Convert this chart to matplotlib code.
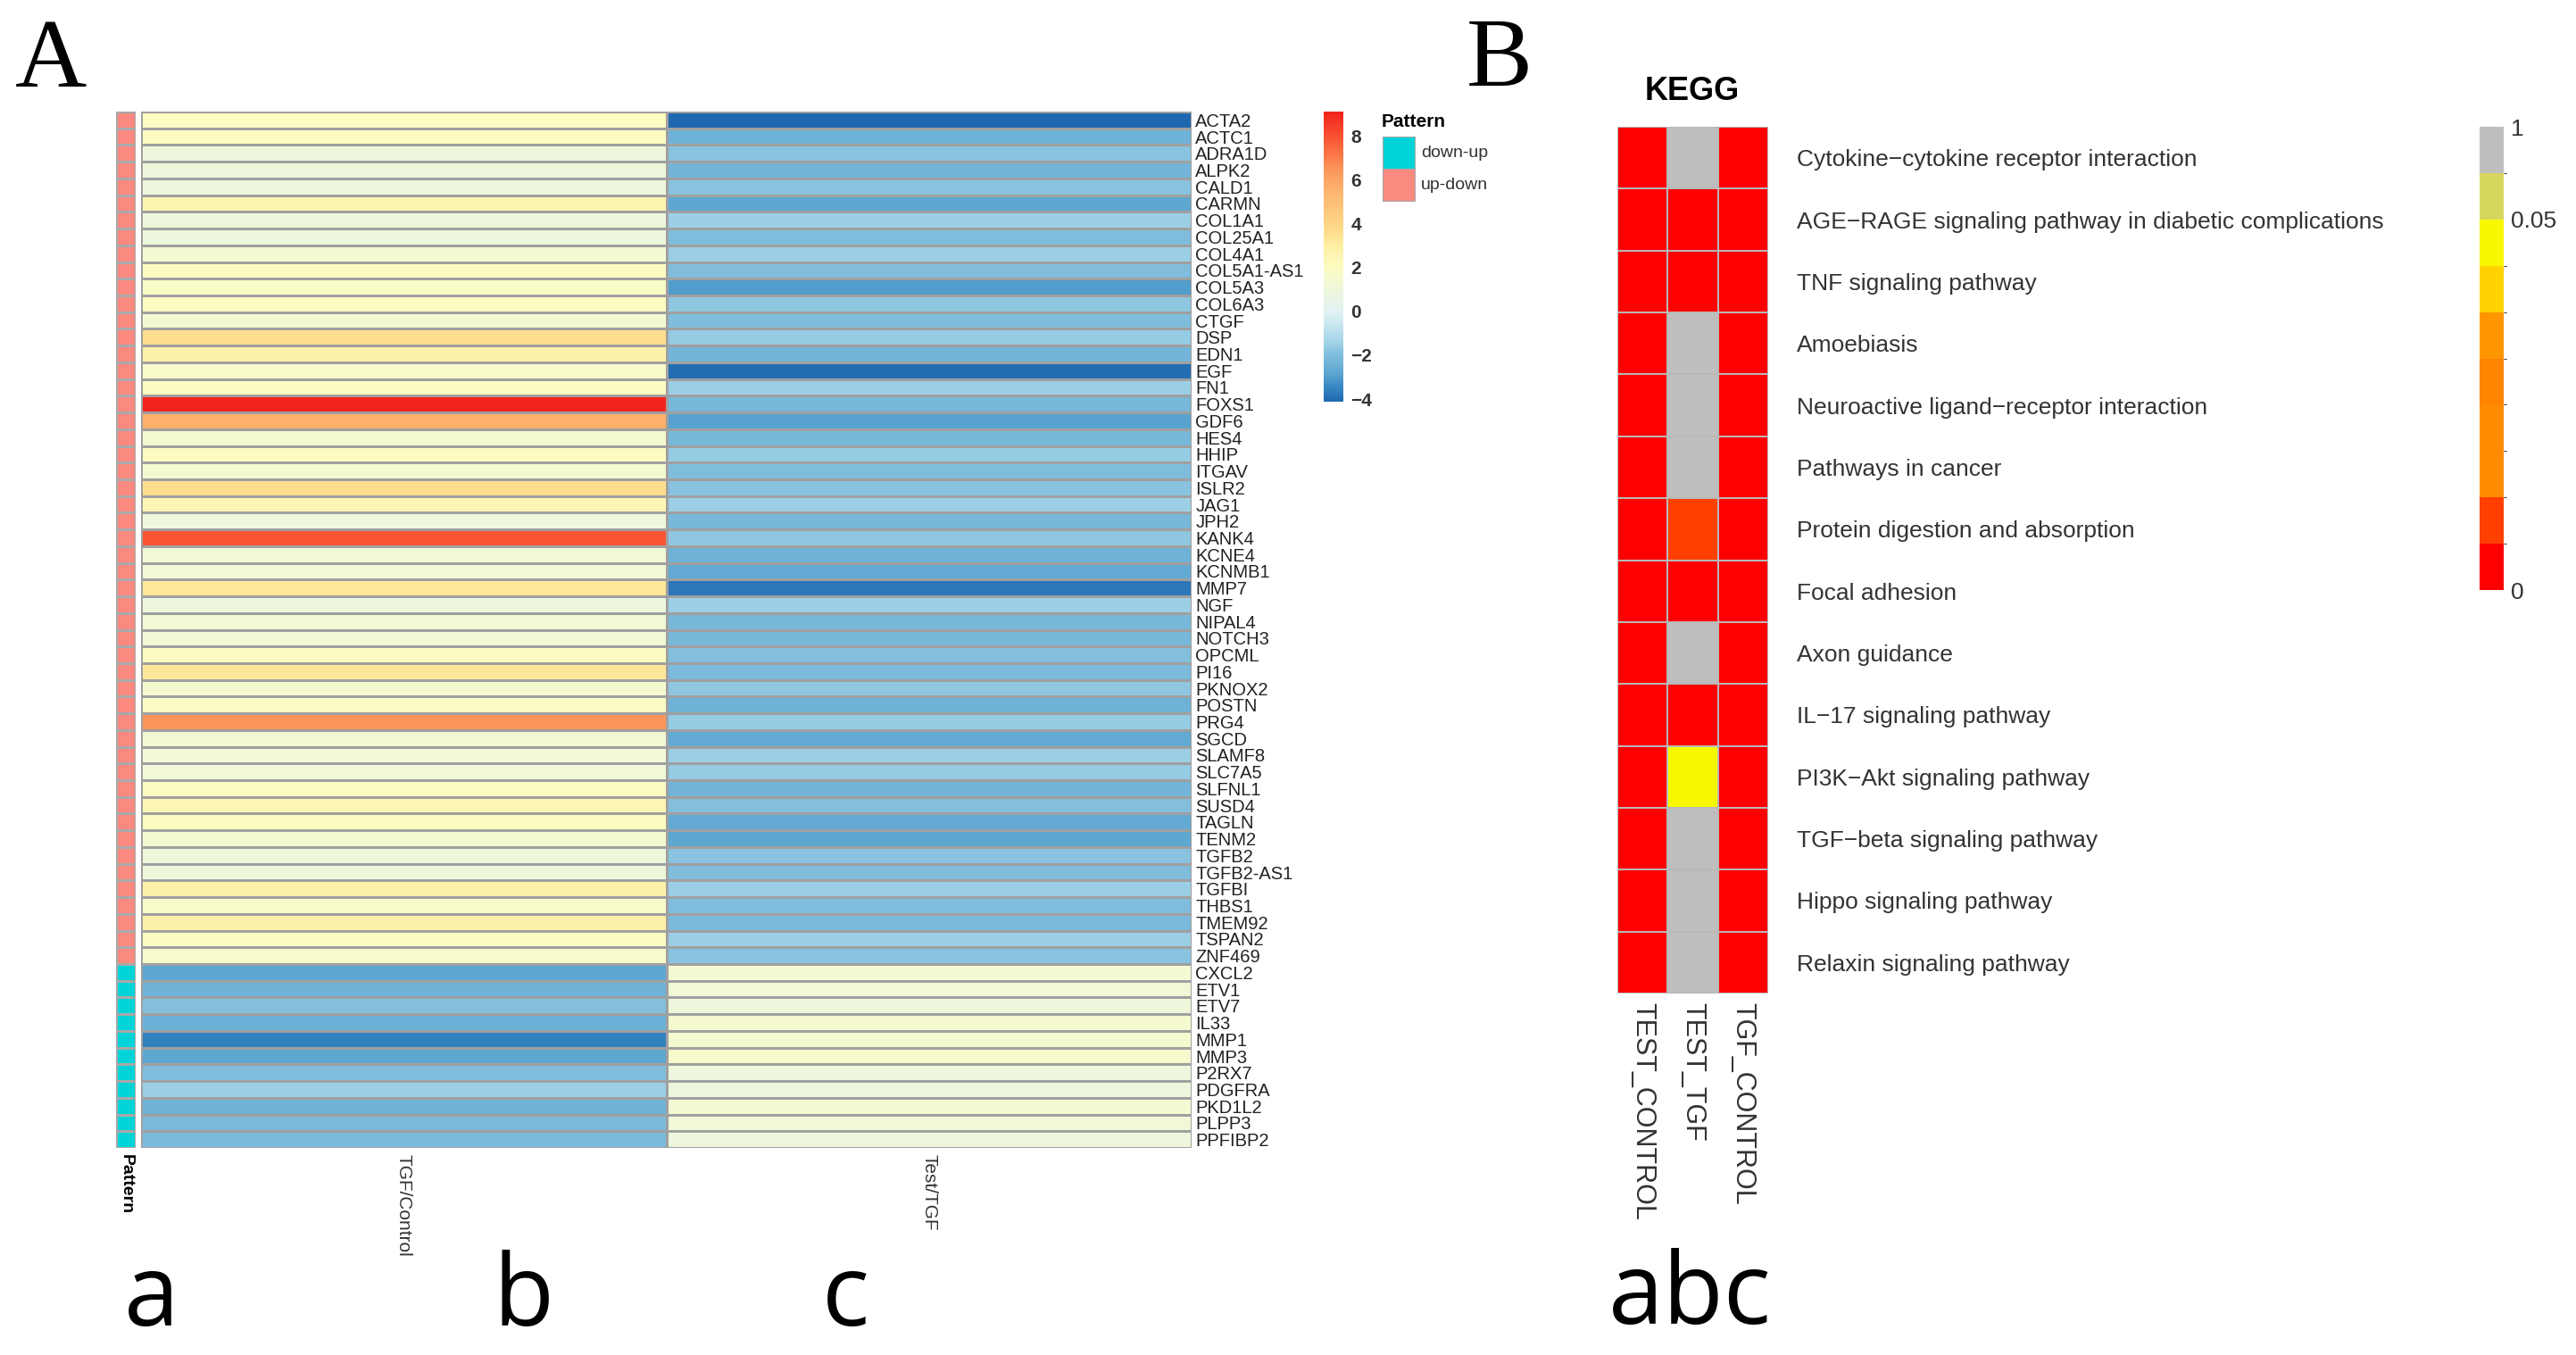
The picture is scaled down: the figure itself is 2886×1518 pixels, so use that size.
import numpy as np
import matplotlib

matplotlib.use("Agg")
import matplotlib.pyplot as plt  # noqa: E402
from matplotlib import font_manager  # noqa: E402
from matplotlib.cm import ScalarMappable  # noqa: E402
from matplotlib.colors import (  # noqa: E402
    BoundaryNorm, LinearSegmentedColormap, ListedColormap, Normalize,
)
from matplotlib.patches import Rectangle  # noqa: E402

W, H = 2886, 1518

# ---- panel A data: log2 fold changes per gene ----
GENES = [
    "ACTA2", "ACTC1", "ADRA1D", "ALPK2", "CALD1", "CARMN", "COL1A1", "COL25A1",
    "COL4A1", "COL5A1-AS1", "COL5A3", "COL6A3", "CTGF", "DSP", "EDN1", "EGF",
    "FN1", "FOXS1", "GDF6", "HES4", "HHIP", "ITGAV", "ISLR2", "JAG1", "JPH2",
    "KANK4", "KCNE4", "KCNMB1", "MMP7", "NGF", "NIPAL4", "NOTCH3", "OPCML",
    "PI16", "PKNOX2", "POSTN", "PRG4", "SGCD", "SLAMF8", "SLC7A5", "SLFNL1",
    "SUSD4", "TAGLN", "TENM2", "TGFB2", "TGFB2-AS1", "TGFBI", "THBS1",
    "TMEM92", "TSPAN2", "ZNF469",
    "CXCL2", "ETV1", "ETV7", "IL33", "MMP1", "MMP3", "P2RX7", "PDGFRA",
    "PKD1L2", "PLPP3", "PPFIBP2",
]
PATTERN = ["up-down"] * 51 + ["down-up"] * 11
TGF_CONTROL = [
    2.0, 2.0, 1.0, 1.0, 0.9, 2.6, 1.0, 0.9, 1.4, 2.0, 1.8, 2.0, 1.4, 3.6, 2.8,
    1.7, 2.0, 9.0, 5.6, 1.5, 2.0, 1.5, 3.6, 2.5, 1.0, 7.9, 1.2, 1.2, 3.3, 0.9,
    1.2, 1.2, 2.0, 3.3, 1.5, 1.9, 6.5, 1.3, 1.1, 1.1, 2.0, 2.5, 2.0, 1.5, 1.0,
    1.0, 2.8, 1.7, 2.8, 2.0, 1.6,
    -2.8, -2.4, -1.9, -2.5, -3.6, -2.8, -2.0, -1.5, -2.4, -2.1, -2.1,
]
TEST_TGF = [
    -4.1, -2.4, -1.8, -2.3, -1.8, -2.8, -1.5, -2.0, -1.5, -2.0, -3.0, -1.7,
    -2.0, -1.6, -2.3, -4.0, -1.5, -2.2, -2.9, -2.2, -1.6, -2.0, -1.8, -1.5,
    -2.2, -1.7, -2.4, -2.7, -3.8, -1.5, -2.2, -2.2, -1.9, -2.1, -1.7, -2.4,
    -1.6, -2.7, -1.5, -1.6, -2.3, -1.9, -2.7, -2.8, -1.8, -2.0, -1.5, -2.0,
    -2.1, -1.5, -1.8,
    1.4, 1.1, 1.0, 1.5, 1.5, 1.6, 0.9, 0.9, 1.4, 1.1, 0.9,
]
A_COLUMNS = ["TGF/Control", "Test/TGF"]
PATTERN_COLORS = {"down-up": "#00d4d8", "up-down": "#fa8a80"}

# ---- panel B data: KEGG enrichment p-values ----
PATHWAYS = [
    "Cytokine\u2212cytokine receptor interaction",
    "AGE\u2212RAGE signaling pathway in diabetic complications",
    "TNF signaling pathway",
    "Amoebiasis",
    "Neuroactive ligand\u2212receptor interaction",
    "Pathways in cancer",
    "Protein digestion and absorption",
    "Focal adhesion",
    "Axon guidance",
    "IL\u221217 signaling pathway",
    "PI3K\u2212Akt signaling pathway",
    "TGF\u2212beta signaling pathway",
    "Hippo signaling pathway",
    "Relaxin signaling pathway",
]
KEGG_COLUMNS = ["TEST_CONTROL", "TEST_TGF", "TGF_CONTROL"]
P_TEST_CONTROL = [0.001] * 14
P_TEST_TGF = [0.8, 0.001, 0.001, 0.8, 0.8, 0.8, 0.007, 0.001, 0.8, 0.001,
              0.045, 0.8, 0.8, 0.8]
P_TGF_CONTROL = [0.001] * 14
P_BOUNDS = [0, 0.005, 0.01, 0.015, 0.02, 0.025, 0.03, 0.035, 0.05, 0.5, 1.0]
P_COLORS = ["#ff0000", "#ff4000", "#ff8c00", "#ff8c00", "#ff8400", "#ff9600",
            "#ffd200", "#f8f800", "#d6d65e", "#bebebe"]

# diverging palette for the fold-change heatmap
FC_MIN, FC_MAX = -4.12, 9.1
FC_ANCHORS = [
    (-4.12, "#1f68b0"), (-3.5, "#3686c2"), (-2.8, "#5fa8d2"), (-2.0, "#80bddc"),
    (-1.4, "#a3d4e8"), (-0.5, "#cde9f1"), (0.0, "#e2f2f3"), (1.0, "#eef7db"),
    (2.0, "#fcfcc2"), (3.0, "#feefa4"), (3.6, "#fede8e"), (5.5, "#fdb46d"),
    (6.5, "#fc955a"), (7.8, "#fa5a36"), (9.1, "#f2231b"),
]


def pick(*names):
    for n in names:
        try:
            font_manager.findfont(font_manager.FontProperties(family=n),
                                  fallback_to_default=False)
            return n
        except ValueError:
            pass
    return "DejaVu Sans"


SANS = pick("Liberation Sans", "Arial")
NARROW = pick("Liberation Sans Narrow", "Liberation Sans")
SERIF = pick("Liberation Serif", "DejaVu Serif")
LETTER = pick("Open Sans", "Lato")


def box(x0, y0, x1, y1):
    return [x0 / W, 1 - y1 / H, (x1 - x0) / W, (y1 - y0) / H]


def fpos(x, y):
    return x / W, 1 - y / H


def strip_axes(ax):
    for s in ax.spines.values():
        s.set_visible(False)


fig = plt.figure(figsize=(W / 100, H / 100), dpi=100)

# ---------------- panel A ----------------
fc_cmap = LinearSegmentedColormap.from_list(
    "fc", [((v - FC_MIN) / (FC_MAX - FC_MIN), c) for v, c in FC_ANCHORS])
fc_norm = Normalize(FC_MIN, FC_MAX)
n = len(GENES)

ax_p = fig.add_axes(box(130, 125, 152, 1286))
pat_idx = np.array([[0 if p == "down-up" else 1] for p in PATTERN])
ax_p.pcolormesh(pat_idx, cmap=ListedColormap([PATTERN_COLORS["down-up"],
                                               PATTERN_COLORS["up-down"]]),
                vmin=0, vmax=1, edgecolors="#a8a8a8", linewidth=0.8)
ax_p.set_xlim(0, 1)
ax_p.set_ylim(n, 0)
strip_axes(ax_p)
ax_p.set_yticks([])
ax_p.set_xticks([0.5])
ax_p.set_xticklabels(["Pattern"], rotation=270, fontsize=14,
                     fontweight="bold", family=SANS)
ax_p.tick_params(length=0, pad=5)

ax_a = fig.add_axes(box(158, 125, 1335, 1286))
mat = np.column_stack([TGF_CONTROL, TEST_TGF])
ax_a.pcolormesh(mat, cmap=fc_cmap, norm=fc_norm, edgecolors="#a0a0a0",
                linewidth=0.8)
ax_a.set_xlim(0, 2)
ax_a.set_ylim(n, 0)
strip_axes(ax_a)
ax_a.yaxis.tick_right()
ax_a.set_yticks(np.arange(n) + 0.5)
ax_a.set_yticklabels(GENES, fontsize=14.5, family=SANS, color="#222222")
ax_a.set_xticks([0.5, 1.5])
ax_a.set_xticklabels(A_COLUMNS, rotation=270, fontsize=15, family=SANS,
                     color="#333333")
ax_a.tick_params(axis="y", length=0, pad=3)
ax_a.tick_params(axis="x", length=0, pad=5)

cax_a = fig.add_axes(box(1483, 125, 1505, 450))
cb_a = fig.colorbar(ScalarMappable(fc_norm, fc_cmap), cax=cax_a,
                    ticks=[-4, -2, 0, 2, 4, 6, 8])
cb_a.outline.set_visible(False)
cax_a.tick_params(length=0, labelsize=15, pad=6, colors="#333333")
for t in cax_a.get_yticklabels():
    t.set_family(SANS)
    t.set_fontweight("bold")

# annotation legend
fig.text(*fpos(1548, 137), "Pattern", fontsize=15, fontweight="bold",
         family=SANS, va="center", ha="left")
for i, lab in enumerate(["down-up", "up-down"]):
    y0 = 153 + i * 36
    fig.add_artist(Rectangle(fpos(1549, y0 + 36), 36 / W, 36 / H,
                             transform=fig.transFigure,
                             fc=PATTERN_COLORS[lab], ec="#a8a8a8", lw=0.8))
    fig.text(*fpos(1592, y0 + 18), lab, fontsize=14, family=SANS,
             color="#333333", va="center", ha="left")

fig.text(*fpos(57, 70), "A", fontsize=80, family=SERIF, ha="center",
         va="center")
for lab, x in [("a", 170), ("b", 586), ("c", 947)]:
    fig.text(*fpos(x, 1485), lab, fontsize=80, family=LETTER, ha="center",
             va="baseline")

# ---------------- panel B ----------------
p_cmap = ListedColormap(P_COLORS)
p_norm = BoundaryNorm(P_BOUNDS, p_cmap.N)
k = len(PATHWAYS)

ax_k = fig.add_axes(box(1812, 142, 1981, 1113))
kmat = np.column_stack([P_TEST_CONTROL, P_TEST_TGF, P_TGF_CONTROL])
ax_k.pcolormesh(kmat, cmap=p_cmap, norm=p_norm, edgecolors="#b8b8b8",
                linewidth=1.2)
ax_k.set_xlim(0, 3)
ax_k.set_ylim(k, 0)
strip_axes(ax_k)
ax_k.yaxis.tick_right()
ax_k.set_yticks(np.arange(k) + 0.5)
ax_k.set_yticklabels(PATHWAYS, fontsize=19, family=NARROW, color="#333333")
ax_k.set_xticks(np.arange(3) + 0.5)
ax_k.set_xticklabels(KEGG_COLUMNS, rotation=270, fontsize=22, family=NARROW,
                     color="#333333")
ax_k.tick_params(axis="y", length=0, pad=23)
ax_k.tick_params(axis="x", length=0, pad=7)

fig.text(*fpos(1896, 102), "KEGG", fontsize=26, fontweight="bold",
         family=NARROW, ha="center", va="center")

cax_k = fig.add_axes(box(2778, 142, 2805, 661))
cb_k = fig.colorbar(ScalarMappable(p_norm, p_cmap), cax=cax_k,
                    spacing="uniform", ticks=[0, 0.05, 1])
cb_k.set_ticklabels(["0", "0.05", "1"])
cb_k.outline.set_visible(False)
cax_k.tick_params(length=0, labelsize=19, pad=6, colors="#333333")
for t in cax_k.get_yticklabels():
    t.set_family(NARROW)

fig.text(*fpos(1680, 69), "B", fontsize=80, family=SERIF, ha="center",
         va="center")
fig.text(*fpos(1893, 1483), "abc", fontsize=80, family=LETTER, ha="center",
         va="baseline")

fig.savefig("out.png", dpi=100)
